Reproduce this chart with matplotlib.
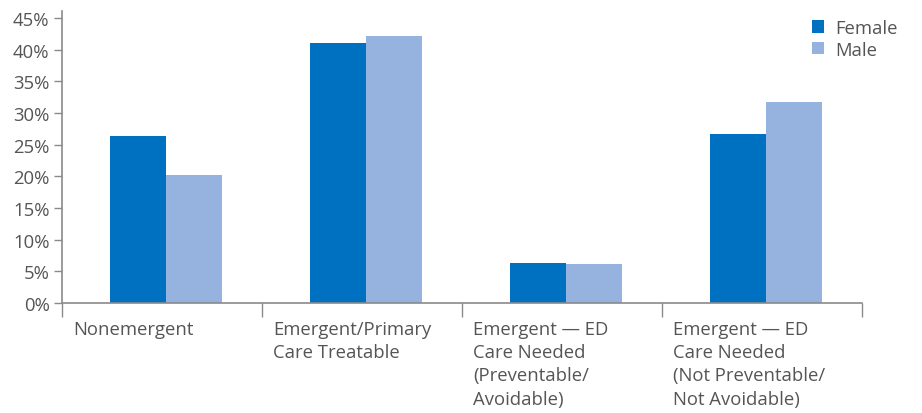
import numpy as np
import matplotlib.pyplot as plt

# data
categories = ['Nonemergent', 'Emergent/Primary\nCare Treatable',
              'Emergent \u2014 ED\nCare Needed\n(Preventable/\nAvoidable)',
              'Emergent \u2014 ED\nCare Needed\n(Not Preventable/\nNot Avoidable)']
female = [26.3, 41.0, 6.3, 26.7]
male = [20.2, 42.2, 6.1, 31.7]
yticks = [0, 5, 10, 15, 20, 25, 30, 35, 40, 45]

plt.rcParams['font.family'] = ['Open Sans', 'DejaVu Sans']
text_col = '#555555'
axis_col = '#8a8a8a'
fs = 13.3

fig = plt.figure(figsize=(9.22, 4.14), dpi=100)
ax = fig.add_axes([62/922, 1-304/414, 800/922, 292/414])

x = np.arange(len(categories))
w = 0.28
ax.bar(x + 0.02 - w/2, female, w, color='#0070C0', label='Female')
ax.bar(x + 0.02 + w/2, male, w, color='#95B3DE', label='Male')

ax.set_xlim(-0.5, 3.5)
ax.set_ylim(0, 46.1)
ax.set_yticks(yticks)
ax.set_yticklabels([str(t) + '%' for t in yticks], fontsize=fs, color=text_col)
ax.tick_params(axis='y', length=6, color=axis_col, width=1, pad=3)

# category boundaries as x ticks
ax.set_xticks(np.arange(-0.5, 4, 1))
ax.set_xticklabels([])
ax.tick_params(axis='x', length=10, color=axis_col, width=1)

for s in ['top', 'right']:
    ax.spines[s].set_visible(False)
for s in ['left', 'bottom']:
    ax.spines[s].set_color(axis_col)
    ax.spines[s].set_linewidth(1.2)

for i, c in enumerate(categories):
    ax.annotate(c, xy=(i - 0.5, 0), xycoords=('data', 'axes fraction'),
                xytext=(8, -12), textcoords='offset points',
                ha='left', va='top', fontsize=fs, color=text_col, linespacing=1.38)

ax.legend(loc='upper right', bbox_to_anchor=(1.065, 1.03), frameon=False, fontsize=fs,
          handlelength=0.65, handleheight=0.65, handletextpad=0.6, labelspacing=0.2,
          labelcolor=text_col)

plt.savefig('out.png', dpi=100)
